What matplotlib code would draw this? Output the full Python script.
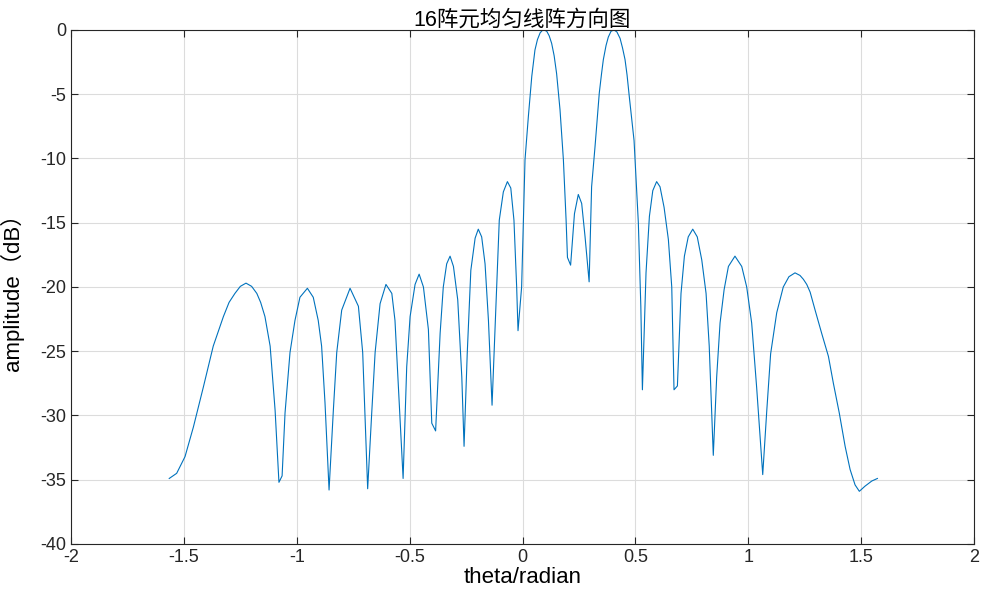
import numpy as np
import matplotlib
matplotlib.use("Agg")
import matplotlib.pyplot as plt

plt.rcParams['font.family'] = ['Liberation Sans', 'Noto Sans CJK SC', 'DejaVu Sans']

# pattern values (theta in radian, amplitude in dB)
theta = [-1.565, -1.532, -1.495, -1.458, -1.414, -1.370, -1.325, -1.300, -1.274, -1.250,
         -1.225, -1.200, -1.177, -1.160,
         -1.141, -1.118, -1.096, -1.079, -1.065, -1.052, -1.030, -1.008, -0.986, -0.953,
         -0.927, -0.905, -0.890, -0.875, -0.857, -0.838, -0.823, -0.801, -0.764, -0.727,
         -0.708, -0.686, -0.668, -0.653, -0.631, -0.605, -0.579, -0.565, -0.529, -0.513,
         -0.498, -0.476, -0.458, -0.439, -0.417, -0.402, -0.385, -0.365, -0.351, -0.336,
         -0.321, -0.306, -0.287, -0.269, -0.259, -0.245, -0.229, -0.210, -0.196, -0.181,
         -0.166, -0.151, -0.135, -0.103, -0.085, -0.067, -0.052, -0.038, -0.026, -0.020,
         -0.004, 0.011, 0.026, 0.041, 0.055, 0.066, 0.078, 0.088, 0.097, 0.108, 0.118, 0.129,
         0.140, 0.151, 0.166,
         0.181, 0.193, 0.199, 0.213, 0.230, 0.247, 0.262, 0.277, 0.295, 0.306,
         0.321, 0.340, 0.350, 0.358, 0.370, 0.380, 0.392, 0.405, 0.418, 0.432, 0.443,
         0.454, 0.463, 0.473, 0.494, 0.513,
         0.524, 0.531, 0.547, 0.562, 0.577, 0.594, 0.609, 0.627, 0.646, 0.661,
         0.671, 0.686, 0.702, 0.717, 0.734, 0.754, 0.774, 0.794, 0.813, 0.827,
         0.845, 0.860, 0.875, 0.893, 0.912, 0.941, 0.971, 0.993, 1.015, 1.037,
         1.064, 1.082, 1.099, 1.126, 1.155, 1.180, 1.207, 1.229, 1.244, 1.259, 1.274,
         1.296, 1.325,
         1.355, 1.377, 1.403, 1.429, 1.451, 1.473, 1.492, 1.517, 1.547, 1.572]
amp_db = [-34.9, -34.5, -33.2, -30.9, -27.8, -24.6, -22.3, -21.2, -20.5, -19.95,
          -19.7, -19.95, -20.5, -21.2,
          -22.3, -24.6, -29.6, -35.2, -34.7, -29.8, -25.1, -22.6, -20.8, -20.1,
          -20.8, -22.6, -24.6, -29.0, -35.8, -29.6, -25.1, -21.8, -20.1, -21.5,
          -25.1, -35.7, -29.8, -25.1, -21.3, -19.8, -20.5, -22.6, -34.9, -26.2,
          -22.3, -19.8, -19.0, -20.0, -23.3, -30.6, -31.2, -23.6, -20.0, -18.2,
          -17.6, -18.4, -21.0, -27.0, -32.4, -25.2, -18.7, -16.2, -15.5, -16.1,
          -18.2, -22.6, -29.2, -14.8, -12.6, -11.8, -12.3, -14.8, -20.0, -23.4,
          -20.0, -10.1, -6.7, -3.6, -1.56, -0.75, -0.22, -0.03, 0.0, -0.12, -0.45, -1.04,
          -2.0, -3.4, -6.2,
          -10.1, -14.8, -17.7, -18.3, -14.3, -12.8, -13.5, -16.1, -19.6, -12.2,
          -9.1, -4.9, -3.4, -2.3, -1.2, -0.55, -0.1, 0.0, -0.15, -0.65, -1.4,
          -2.3, -3.5, -5.2, -8.6, -15.0,
          -21.5, -28.0, -18.9, -14.5, -12.5, -11.8, -12.2, -13.8, -16.3, -20.0,
          -28.0, -27.7, -20.5, -17.6, -16.1, -15.5, -16.1, -17.9, -20.5, -24.6,
          -33.1, -27.0, -22.8, -20.2, -18.4, -17.6, -18.4, -20.0, -22.8, -27.8,
          -34.6, -29.6, -25.2, -22.0, -20.0, -19.2, -18.9, -19.1, -19.4, -19.8, -20.4,
          -21.8, -23.6,
          -25.4, -27.5, -29.8, -32.4, -34.2, -35.4, -35.9, -35.5, -35.1, -34.9]

xticks = [-2, -1.5, -1, -0.5, 0, 0.5, 1, 1.5, 2]
yticks = [-40, -35, -30, -25, -20, -15, -10, -5, 0]

fig = plt.figure(figsize=(9.81, 6.07), dpi=100)
ax = fig.add_axes([0.0724, 0.1038, 0.9205, 0.8468])
ax.plot(theta, amp_db, color='#0072BD', lw=0.8)

ax.set_xlim(-2, 2)
ax.set_ylim(-40, 0)
ax.set_xticks(xticks)
ax.set_xticklabels(['-2', '-1.5', '-1', '-0.5', '0', '0.5', '1', '1.5', '2'])
ax.set_yticks(yticks)
ax.set_yticklabels([str(v) for v in yticks])
ax.grid(True, color='#dcdcdc', lw=0.8)
ax.set_axisbelow(True)
ax.tick_params(direction='in', top=True, right=True, labelsize=13, length=5, width=0.8, colors='#262626')
for s in ax.spines.values():
    s.set_color('#262626')
    s.set_linewidth(0.8)

ax.set_title('16阵元均匀线阵方向图', fontsize=15.5, pad=3)
ax.set_xlabel('theta/radian', fontsize=16, labelpad=1)
ax.set_ylabel('amplitude（dB）', fontsize=16)
ax.yaxis.set_label_coords(-0.052, 0.5)

fig.savefig('out.png', dpi=100)
